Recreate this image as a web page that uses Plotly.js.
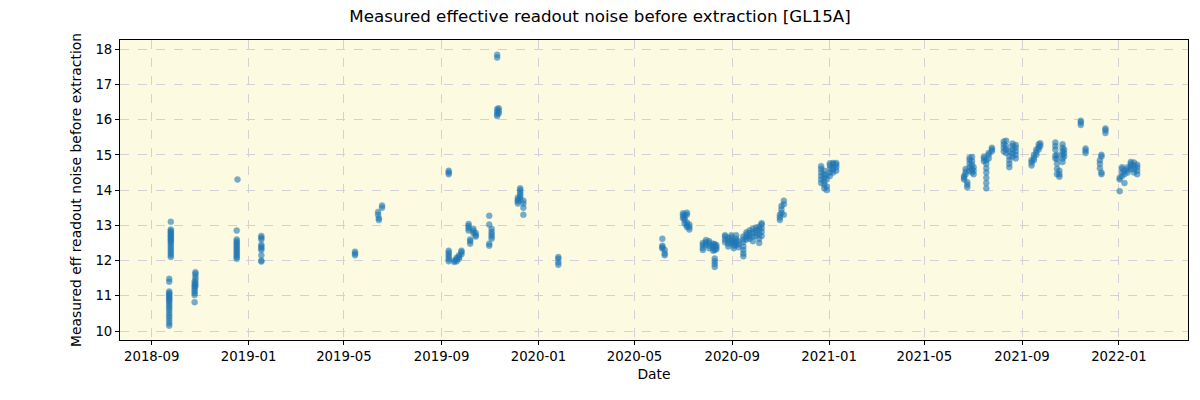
<!DOCTYPE html>
<html>
<head>
<meta charset="utf-8">
<script src="https://cdn.plot.ly/plotly-3.0.1.min.js"></script>
<style>html,body{margin:0;padding:0;background:#fff;}#chart{width:1200px;height:400px;}</style>
</head>
<body>
<div id="chart"></div>
<script>
// Observation sessions (date) and the readout-noise values measured at each one
const sessionDates = [
  "2018-09-23","2018-09-25","2018-10-25","2018-10-26","2018-12-17","2018-12-18","2019-01-17",
  "2019-05-15","2019-06-13","2019-06-14","2019-06-18",
  "2019-09-10","2019-09-17","2019-09-20","2019-09-23","2019-09-26",
  "2019-10-05","2019-10-07","2019-10-11","2019-10-14","2019-10-31","2019-11-03",
  "2019-11-10","2019-11-12","2019-12-06","2019-12-09","2019-12-13","2020-01-26",
  "2020-06-05","2020-06-08","2020-07-01","2020-07-03","2020-07-06","2020-07-09",
  "2020-07-26","2020-07-30","2020-08-03","2020-08-08","2020-08-10","2020-08-12",
  "2020-08-23","2020-08-27","2020-08-31","2020-09-03","2020-09-06","2020-09-09",
  "2020-09-15","2020-09-19","2020-09-23","2020-09-27","2020-10-01","2020-10-05","2020-10-08",
  "2020-10-31","2020-11-02","2020-11-05",
  "2020-12-22","2020-12-26","2020-12-29","2021-01-02","2021-01-06","2021-01-10",
  "2021-06-20","2021-06-22","2021-06-24","2021-06-27","2021-06-30","2021-07-02",
  "2021-07-15","2021-07-18","2021-07-21","2021-07-25",
  "2021-08-09","2021-08-12","2021-08-16","2021-08-20","2021-08-24",
  "2021-09-13","2021-09-16","2021-09-19","2021-09-22","2021-09-24",
  "2021-10-13","2021-10-15","2021-10-18","2021-10-22","2021-10-24",
  "2021-11-14","2021-11-20","2021-12-08","2021-12-10","2021-12-15",
  "2022-01-02","2022-01-05","2022-01-08","2022-01-12","2022-01-16","2022-01-20","2022-01-24"
];
const sessionNoise = [
  [10.15,10.22,10.3,10.38,10.45,10.52,10.6,10.66,10.72,10.78,10.84,10.88,10.92,10.96,11.0,11.04,11.08,11.12,11.4,11.48],
  [12.1,12.16,12.22,12.28,12.34,12.4,12.46,12.52,12.56,12.6,12.64,12.68,12.72,12.76,12.8,12.84,12.88,13.1],
  [10.82,11.02,11.08,11.14,11.2,11.26,11.32,11.4],
  [11.28,11.36,11.46,11.54,11.62,11.67],
  [12.05,12.1,12.15,12.2,12.25,12.3,12.35,12.4,12.45,12.5,12.55,12.6,12.85],
  [14.3],
  [11.97,12.0,12.15,12.3,12.35,12.4,12.45,12.6,12.65,12.7],
  [12.15,12.2,12.25],
  [13.3,13.38],
  [13.2,13.15],
  [13.5,13.56],
  [14.45,14.5,14.55,11.98,12.04,12.1,12.16,12.22,12.28],
  [11.96,12.0],
  [11.98,12.04,12.08],
  [12.05,12.1,12.15],
  [12.18,12.24,12.28],
  [12.85,12.92,12.98,13.04],
  [12.48,12.55,12.6],
  [12.78,12.84,12.9],
  [12.68,12.72,12.78],
  [13.27,13.02,12.42,12.48],
  [12.62,12.68,12.75,12.82,12.9],
  [17.76,17.84,16.1,16.15,16.22,16.3],
  [16.18,16.25,16.32],
  [13.62,13.68,13.72,13.78],
  [13.75,13.82,13.88,13.94,14.0,14.05],
  [13.3,13.5,13.62,13.7],
  [11.88,11.95,12.05,12.1],
  [12.62,12.42,12.38,12.34],
  [12.3,12.2,12.15],
  [13.2,13.28,13.34],
  [13.05,13.15,13.22,13.3],
  [12.95,13.0,13.08,13.3,13.36],
  [12.88,12.95,13.02],
  [12.3,12.36,12.44,12.5],
  [12.45,12.52,12.58],
  [12.42,12.5,12.55,12.35],
  [12.28,12.35,12.42,12.48],
  [11.82,11.9,11.98,12.06,12.3,12.4,12.46],
  [12.32,12.38,12.44],
  [12.52,12.6,12.68,12.72],
  [12.4,12.48,12.56,12.64],
  [12.5,12.58,12.66,12.72],
  [12.35,12.42,12.5,12.56],
  [12.45,12.55,12.62,12.72],
  [12.38,12.46,12.55],
  [12.12,12.2,12.3,12.4,12.52,12.6,12.68],
  [12.6,12.66,12.74,12.8],
  [12.62,12.7,12.78,12.86],
  [12.55,12.68,12.8,12.9],
  [12.7,12.78,12.86,12.94],
  [12.5,12.62,12.75,12.88,12.96],
  [12.7,12.82,12.92,13.02,13.06],
  [13.15,13.22,13.3],
  [13.35,13.45,13.55],
  [13.3,13.6,13.7],
  [14.2,14.3,14.4,14.5,14.6,14.68],
  [14.05,14.15,14.25,14.35,14.45,14.55],
  [14.0,14.1,14.3,14.42],
  [14.4,14.5,14.6,14.7,14.76],
  [14.5,14.58,14.66,14.74,14.77],
  [14.55,14.65,14.72,14.77],
  [14.3,14.35,14.4],
  [14.45,14.52,14.6],
  [14.08,14.15,14.22],
  [14.55,14.65,14.75,14.85,14.92],
  [14.5,14.6,14.72,14.82,14.94],
  [14.45,14.55,14.65],
  [14.82,14.9,14.95],
  [14.05,14.2,14.35,14.5,14.62,14.75,14.85],
  [14.9,15.0,15.05],
  [15.1,15.15,15.2],
  [15.1,15.2,15.3,15.38],
  [15.05,15.15,15.25,15.4],
  [14.65,14.75,14.85,14.95,15.1],
  [14.95,15.05,15.15,15.25,15.32],
  [14.9,15.0,15.1,15.2,15.28],
  [14.7,14.78,14.85],
  [14.85,14.92,15.0],
  [15.0,15.08,15.15],
  [15.15,15.22,15.3],
  [15.25,15.33],
  [15.15,15.25,15.35,14.9,14.98],
  [14.45,14.6,14.75,14.88,15.0],
  [14.38,14.45,14.55],
  [14.8,14.9,15.0,15.1,15.2,15.3],
  [14.95,15.05,15.15],
  [15.85,15.92,15.97],
  [15.05,15.12,15.18],
  [14.75,14.85,14.62],
  [14.95,15.0,14.45,14.5],
  [15.62,15.7,15.75],
  [14.3,14.35,13.97],
  [14.4,14.5,14.6,14.65],
  [14.2,14.45,14.55],
  [14.5,14.58,14.65],
  [14.6,14.68,14.75,14.8],
  [14.5,14.6,14.7,14.78],
  [14.45,14.55,14.65,14.72]
];
const xTickStart = "2018-09-01";
const yTicks = [10,11,12,13,14,15,16,17,18];

const xs = [], ys = [];
sessionDates.forEach((d, i) => {
  sessionNoise[i].forEach(v => { xs.push(d); ys.push(v); });
});

const font = "DejaVu Sans, sans-serif";
const trace = {
  type: "scatter", mode: "markers", x: xs, y: ys,
  marker: {color: "#1f77b4", size: 6, opacity: 0.6, line: {color: "#1f77b4", width: 0.5}},
  hoverinfo: "x+y"
};
const layout = {
  width: 1200, height: 400,
  margin: {l: 120, r: 12, t: 40, b: 60},
  paper_bgcolor: "#ffffff", plot_bgcolor: "#fcfae1",
  font: {family: font, size: 13, color: "#000"},
  title: {text: "Measured effective readout noise before extraction [GL15A]", font: {family: font, size: 16.7, color: "#000"}, x: 0.5, xanchor: "center", y: 0.96, yanchor: "middle"},
  xaxis: {
    type: "date", range: ["2018-07-23", "2022-03-29"],
    tick0: xTickStart, dtick: "M4", tickformat: "%Y-%m",
    showline: true, linecolor: "#000", linewidth: 1, mirror: true,
    ticks: "outside", ticklen: 4, tickcolor: "#000",
    tickfont: {family: font, size: 13.3},
    showgrid: true, gridcolor: "#d2d2d6", griddash: "dash", gridwidth: 1,
    zeroline: false,
    title: {text: "Date", font: {family: font, size: 13.9}, standoff: 6}
  },
  yaxis: {
    range: [9.745, 18.26], tickvals: yTicks,
    showline: true, linecolor: "#000", linewidth: 1, mirror: true,
    ticks: "outside", ticklen: 4, tickcolor: "#000",
    tickfont: {family: font, size: 13.3},
    showgrid: true, gridcolor: "#d2d2d6", griddash: "dash", gridwidth: 1,
    zeroline: false,
    title: {text: "Measured eff readout noise before extraction", font: {family: font, size: 13.9}, standoff: 10}
  },
  showlegend: false
};
Plotly.newPlot("chart", [trace], layout, {displayModeBar: false, staticPlot: true});
</script>
</body>
</html>
